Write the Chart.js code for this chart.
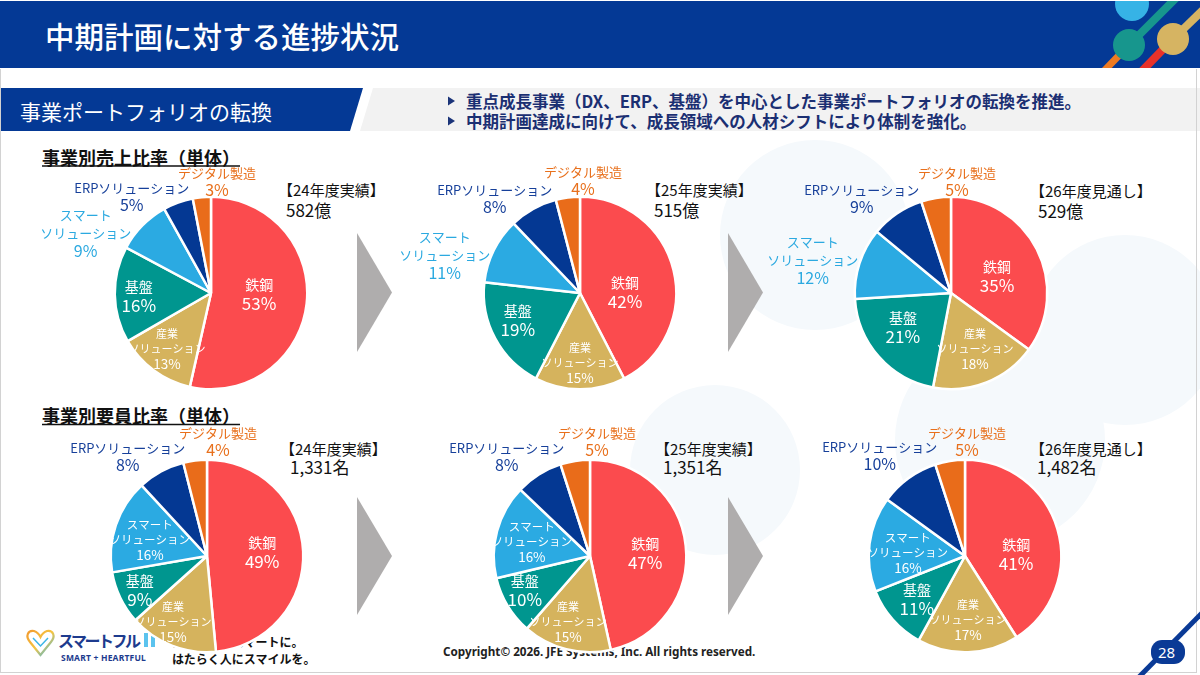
<!DOCTYPE html>
<html><head><meta charset="utf-8">
<script src="https://cdn.jsdelivr.net/npm/chart.js@4.4.1/dist/chart.umd.min.js"></script>
<style>
body{margin:0;background:#fff;}
#slide{position:relative;width:1200px;height:675px;overflow:hidden;background:#fff;font-family:"Noto Sans CJK JP","Noto Sans",sans-serif;}
.t{position:absolute;white-space:nowrap;}
canvas{position:absolute;}
svg{position:absolute;left:0;top:0;}
</style></head><body><div id="slide">
<svg width="1200" height="675" viewBox="0 0 1200 675">
  <defs><clipPath id="band"><rect x="0" y="1" width="1200" height="67"/></clipPath>
  <linearGradient id="hg" x1="0" y1="0" x2="1" y2="1"><stop offset="0" stop-color="#F29A2E"/><stop offset="0.5" stop-color="#F5C542"/><stop offset="1" stop-color="#3DB6E6"/></linearGradient></defs>
  <g fill="#F5F9FC">
    <circle cx="815" cy="235" r="95"/>
    <circle cx="1125" cy="330" r="95"/>
    <circle cx="715" cy="470" r="85"/>
    <circle cx="1000" cy="440" r="105"/>
  </g>
  <rect x="0" y="1" width="1200" height="67" fill="#043995"/>
  <g clip-path="url(#band)">
    <line x1="1129" y1="45" x2="1103" y2="72" stroke="#EE7B22" stroke-width="7"/>
    <line x1="1173" y1="39" x2="1141" y2="72" stroke="#E8322A" stroke-width="8"/>
    <line x1="1129" y1="45" x2="1178" y2="-4" stroke="#17968D" stroke-width="8"/>
    <line x1="1173" y1="39" x2="1206" y2="7" stroke="#D6B462" stroke-width="8"/>
    <circle cx="1132" cy="4" r="17" fill="#36B3E6"/>
    <circle cx="1129" cy="45" r="16" fill="#17968D"/>
    <circle cx="1173" cy="39" r="16" fill="#D6B462"/>
  </g>
  <polygon points="0,88 363,88 350,131 0,131" fill="#043995"/>
  <polygon points="373,88 1200,88 1200,131 360,131" fill="#F2F2F2"/>
  <polygon points="448,96.5 455,101 448,105.5" fill="#1B3479"/>
  <polygon points="448,116.5 455,121 448,125.5" fill="#1B3479"/>
  <line x1="42" y1="166" x2="240" y2="166" stroke="#111" stroke-width="1.5"/>
  <line x1="42" y1="424.5" x2="240" y2="424.5" stroke="#111" stroke-width="1.5"/>
  <g fill="#AFADAD">
    <polygon points="357,233 392,292.5 357,352"/>
    <polygon points="728,233 763,292.5 728,352"/>
    <polygon points="357,497 392,556 357,615"/>
    <polygon points="728,497 763,556 728,615"/>
  </g>
  <line x1="0.5" y1="69" x2="0.5" y2="672" stroke="#D2D2D2" stroke-width="1"/>
  <line x1="1196.5" y1="69" x2="1196.5" y2="672" stroke="#D2D2D2" stroke-width="1"/>
  <line x1="0" y1="672.5" x2="1197" y2="672.5" stroke="#D2D2D2" stroke-width="1"/>
  <line x1="1138" y1="678" x2="1203" y2="612" stroke="#0A3A96" stroke-width="5"/>
  <rect x="1151" y="640" width="34" height="24" rx="11" fill="#0A3A96"/>
  <path d="M40.5 655 L30 642 C25 636 28 630 34 631 C37 632 39 634 40.5 637 C42 634 44 632 47 631 C53 630 56 636 51 642 Z" fill="none" stroke="url(#hg)" stroke-width="2.2"/>
  <path d="M33 638 L40.5 646 L48 638" fill="none" stroke="#3DB6E6" stroke-width="1.5"/>
  <rect x="144" y="633" width="4" height="14" fill="#5BC3EE"/>
  <rect x="151" y="633" width="4" height="14" fill="#5BC3EE"/>
</svg>
</div>
<script>
// ---- data ----
const categories = ['鉄鋼', '産業ソリューション', '基盤', 'スマートソリューション', 'ERPソリューション', 'デジタル製造'];
const sales24 = [53, 13, 16, 9, 5, 3];
const sales25 = [42, 15, 19, 11, 8, 4];
const sales26 = [35, 18, 21, 12, 9, 5];
const staff24 = [49, 15, 9, 16, 8, 4];
const staff25 = [47, 15, 10, 16, 8, 5];
const staff26 = [41, 17, 11, 16, 10, 5];
const periodLabels = ['【24年度実績】', '【25年度実績】', '【26年度見通し】'];
const salesTotals = ['582億', '515億', '529億'];
const staffTotals = ['1,331名', '1,351名', '1,482名'];
const labelLines = [['鉄鋼'], ['産業', 'ソリューション'], ['基盤'], ['スマート', 'ソリューション'], ['ERPソリューション'], ['デジタル製造']];

// ---- styles / layout ----
const sliceColors = ['#FB4B4E', '#D5B35D', '#00968F', '#2BAAE2', '#043893', '#E96C1A'];
const outsideTextColors = ['#FB4B4E', '#D5B35D', '#00968F', '#2BA9E0', '#17409A', '#E8701C'];
const FONT = '"Noto Sans CJK JP","Noto Sans",sans-serif';
const slide = document.getElementById('slide');

function addText(x, cy, text, size, color, weight, extra) {
  const d = document.createElement('div');
  d.className = 't';
  d.textContent = text;
  d.style.cssText = `left:${x}px;top:${cy - size}px;height:${2 * size}px;line-height:${2 * size}px;font-size:${size}px;color:${color};font-weight:${weight || 'normal'};` + (extra || '');
  slide.appendChild(d);
  return d;
}

addText(45, 35, '中期計画に対する進捗状況', 29.5, '#fff', '500');
addText(20, 111, '事業ポートフォリオの転換', 21, '#fff', 'normal');
addText(466, 101, '重点成長事業（DX、ERP、基盤）を中心とした事業ポートフォリオの転換を推進。', 16.5, '#1B2F72', 'bold');
addText(466, 121, '中期計画達成に向けて、成長領域への人材シフトにより体制を強化。', 16.5, '#1B2F72', 'bold');
addText(42, 157, '事業別売上比率（単体）', 18, '#111', 'bold');
addText(42, 415, '事業別要員比率（単体）', 18, '#111', 'bold');

const headerPos = [
  {bx: 278, tx: 286, y1: 190, y2: 210},
  {bx: 646, tx: 654, y1: 190, y2: 210},
  {bx: 1030, tx: 1038, y1: 191, y2: 211},
  {bx: 280, tx: 290, y1: 449, y2: 467},
  {bx: 655, tx: 663, y1: 449, y2: 467},
  {bx: 1030, tx: 1037, y1: 449, y2: 467}
];
for (let i = 0; i < 6; i++) {
  const h = headerPos[i];
  addText(h.bx, h.y1, periodLabels[i % 3], 15, '#111', 'normal');
  addText(h.tx, h.y2, (i < 3 ? salesTotals : staffTotals)[i % 3], 17, '#111', 'normal');
}

// footer
addText(58, 640, 'スマートフル', 16, '#1D3B8E', 'bold', 'letter-spacing:-2.5px;');
addText(61, 657, 'SMART + HEARTFUL', 8.5, '#1D3B8E', 'bold', 'font-family:"Noto Sans",sans-serif;letter-spacing:0.2px;');
addText(172, 642, 'はたらくをスマートに。', 12, '#111', 'bold');
addText(172, 659, 'はたらく人にスマイルを。', 12, '#111', 'bold');
addText(443, 652, 'Copyright© 2026. JFE Systems, Inc. All rights reserved.', 11.7, '#222', 'bold', 'font-family:"Noto Sans",sans-serif;');
addText(1158, 652, '28', 15, '#fff', 'normal', 'font-family:"Noto Sans",sans-serif;');

// label styles per category: inside / outside
function labelStyle(cat, inside) {
  if (cat === 0 || cat === 2) return {sizes: [14, 17], gap: 19};
  if (cat === 1) return {sizes: [11, 11, 13.5], gap: 15};
  if (cat === 3) return inside ? {sizes: [11.5, 11.5, 13.5], gap: 15} : {sizes: [13, 13, 16], gap: 18};
  return {sizes: [13, 16], gap: 17};
}

const labelPlugin = {
  id: 'sliceLabels',
  afterDatasetsDraw(chart) {
    const cfg = chart.options.plugins.sliceLabels;
    const ctx = chart.ctx;
    const meta = chart.getDatasetMeta(0);
    const values = chart.data.datasets[0].data;
    ctx.save();
    ctx.textAlign = 'center';
    ctx.textBaseline = 'middle';
    meta.data.forEach((arc, i) => {
      const p = arc.getProps(['x', 'y', 'outerRadius'], true);
      const k = p.outerRadius / 96;
      const inside = !cfg.outside.includes(i);
      const st = labelStyle(i, inside);
      const lines = labelLines[i].concat([values[i] + '%']);
      const cx = p.x + cfg.offsets[i][0] * k;
      const cy = p.y + cfg.offsets[i][1] * k;
      const n = lines.length;
      ctx.fillStyle = inside ? '#FFFFFF' : outsideTextColors[i];
      lines.forEach((ln, j) => {
        ctx.font = `${st.sizes[j]}px ${FONT}`;
        ctx.fillText(ln, cx, cy + (j - (n - 1) / 2) * st.gap);
      });
    });
    ctx.restore();
  }
};

const pies = [
  {values: sales24, cx: 211, cy: 293, outside: [3, 4, 5], offsets: [[48, 1], [-44, 56], [-72, 3], [-125, -60], [-79, -96], [6, -111]]},
  {values: sales25, cx: 580, cy: 293, outside: [3, 4, 5], offsets: [[45, -1], [0, 70], [-62, 27], [-135, -38], [-85, -94], [3, -112]]},
  {values: sales26, cx: 951, cy: 293, outside: [3, 4, 5], offsets: [[46, -17], [24, 56], [-48, 34], [-138, -33], [-89, -94], [6, -111]]},
  {values: staff24, cx: 207, cy: 556, outside: [4, 5], offsets: [[55, -4], [-34, 66], [-67, 34], [-57, -16], [-79, -99], [11, -114]]},
  {values: staff25, cx: 590, cy: 556, outside: [4, 5], offsets: [[55, -3], [-22, 66], [-65, 34], [-58, -14], [-83, -99], [7, -114]]},
  {values: staff26, cx: 965, cy: 556, outside: [4, 5], offsets: [[51, -2], [3, 64], [-48, 43], [-57, -3], [-85, -100], [2, -114]]}
];

pies.forEach(def => {
  const cv = document.createElement('canvas');
  cv.width = 420; cv.height = 300;
  cv.style.left = (def.cx - 210) + 'px';
  cv.style.top = (def.cy - 150) + 'px';
  cv.style.width = '420px'; cv.style.height = '300px';
  slide.appendChild(cv);
  new Chart(cv, {
    type: 'pie',
    data: {labels: categories, datasets: [{data: def.values, backgroundColor: sliceColors, borderColor: '#FFFFFF', borderWidth: 2.5}]},
    options: {
      responsive: false, animation: false, events: [],
      layout: {padding: {left: 112.5, right: 112.5, top: 52.5, bottom: 52.5}},
      plugins: {legend: {display: false}, tooltip: {enabled: false}, sliceLabels: {offsets: def.offsets, outside: def.outside}}
    },
    plugins: [labelPlugin]
  });
});
</script>
</body></html>
